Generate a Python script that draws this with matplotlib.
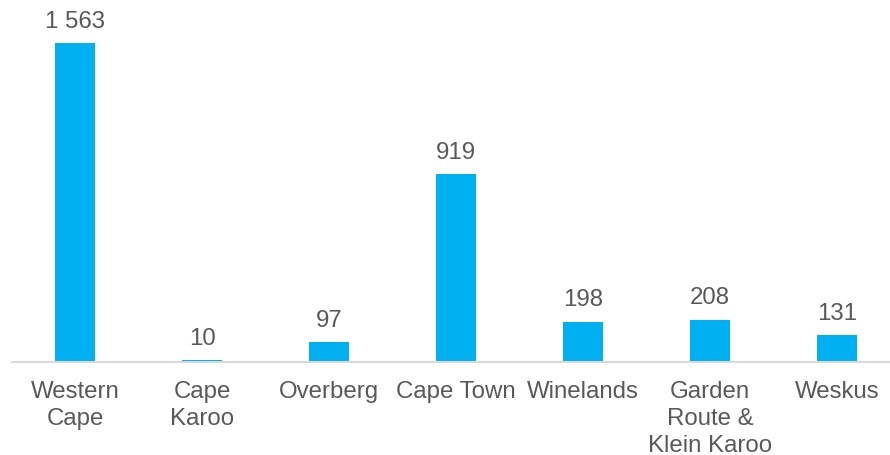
import matplotlib.pyplot as plt

# data
regions = ["Western\nCape", "Cape\nKaroo", "Overberg", "Cape Town", "Winelands",
           "Garden\nRoute &\nKlein Karoo", "Weskus"]
values = [1563, 10, 97, 919, 198, 208, 131]
value_labels = ["1 563", "10", "97", "919", "198", "208", "131"]

plt.rcParams['font.family'] = ['Liberation Sans', 'DejaVu Sans']
text_col = "#595959"
fs = 17.3

fig = plt.figure(figsize=(8.9, 4.55), dpi=100)
ax = fig.add_axes([12 / 890, (455 - 362) / 455, 878 / 890, 362 / 455])

x = list(range(len(regions)))
bars = ax.bar(x, values, width=0.315, color="#00B0F0")

for b, lab in zip(bars, value_labels):
    ax.annotate(lab, (b.get_x() + b.get_width() / 2, b.get_height()),
                xytext=(0, 11), textcoords="offset points",
                ha="center", va="baseline", fontsize=fs, color=text_col)

ax.set_xlim(-0.5, 6.5 - 10.5 / 127)
ax.set_ylim(0, 1774)
ax.set_xticks(x)
ax.set_xticklabels(regions, fontsize=fs, color=text_col, linespacing=1.28)
ax.tick_params(axis="x", length=0, pad=14)
ax.set_yticks([])
for s in ["top", "right", "left"]:
    ax.spines[s].set_visible(False)
ax.spines["bottom"].set_color("#D9D9D9")
ax.spines["bottom"].set_linewidth(1.5)

fig.savefig("out.png", dpi=100)
